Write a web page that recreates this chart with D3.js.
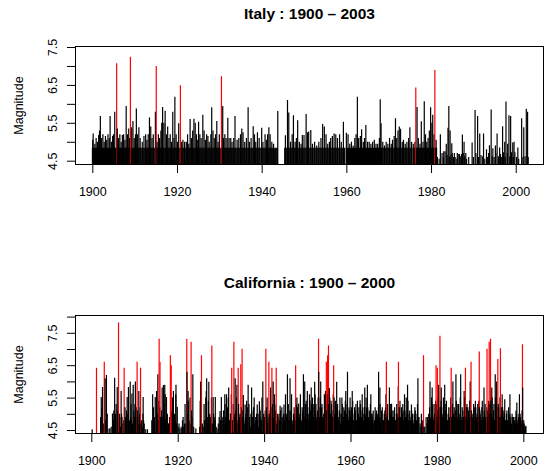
<!DOCTYPE html>
<html>
<head>
<meta charset="utf-8">
<script src="https://cdn.jsdelivr.net/npm/d3@7"></script>
<style>
    body { margin: 0; background: #fff; }
    svg { display: block; font-family: "Liberation Sans", Arial, Helvetica, sans-serif; }
</style>
</head>
<body>
<svg id="chart" width="545" height="471"></svg>
<script>
// tick labels
const yearTicks = [1900, 1920, 1940, 1960, 1980, 2000];
const italyMagTicks = [4.5, 5, 5.5, 6, 6.5, 7, 7.5];
const caMagTicks = [4.5, 5, 5.5, 6, 6.5, 7, 7.5, 8];

// Italy: the dense floor of ~4.84 events, as [year, fractions of the year]
const italyBandMag = 4.84;
const italyBand = [
    [1900,[.03,.27,.5,.76]], [1901,[.02,.24,.49,.71,.93]], [1902,[.18,.42,.66,.9]], [1903,[.1,.33,.58,.82]],
    [1904,[.05,.29,.53,.77,.97]], [1905,[.2,.45,.69,.91]], [1906,[.14,.38,.62,.86]], [1907,[.07,.31,.55,.8]],
    [1908,[.02,.26,.5,.74,.95]], [1909,[.19,.43,.67,.92]], [1910,[.12,.36,.6,.84]], [1911,[.06,.3,.54,.78]],
    [1912,[.01,.25,.5,.74,.96]], [1913,[.2,.44,.68,.9]], [1914,[.13,.37,.61,.86]], [1915,[.08,.32,.56,.8]],
    [1916,[.03,.27,.51,.75,.97]], [1917,[.21,.45,.7,.92]], [1918,[.15,.39,.63,.87]], [1919,[.09,.33,.57,.81]],
    [1920,[.04,.28,.52,.76,.98]], [1921,[.22,.46,.7,.93]], [1922,[.16,.4,.64,.88]], [1923,[.1,.34,.58,.82]],
    [1924,[.05,.29,.53,.77,.99]], [1925,[.23,.47,.71,.94]], [1926,[.17,.41,.65,.89]], [1927,[.11,.35,.59,.83]],
    [1928,[.06,.3,.54,.78]], [1929,[.02,.26,.5,.74,.96]], [1930,[.2,.44,.68,.92]], [1931,[.14,.38,.62,.86]],
    [1932,[.08,.32,.56,.8]], [1933,[.03,.27,.51,.75,.97]], [1934,[.21,.45,.69,.93]], [1935,[.15,.39,.63,.87]],
    [1936,[.09,.33,.57,.81]], [1937,[.04,.28,.52,.76,.98]], [1938,[.22,.46,.7,.94]], [1939,[.16,.4,.64,.88]],
    [1940,[.1,.34,.58,.82]], [1941,[.05,.29,.53,.77]], [1942,[.01,.25,.5,.74,.96]], [1943,[.2,.45,.7]],
    [1945,[.45,.7,.93]], [1946,[.17,.42,.66,.9]], [1947,[.12,.36,.6,.84]], [1948,[.06,.3,.55,.79]],
    [1949,[.01,.25,.5,.73,.96]], [1950,[.2,.44,.68,.92]], [1951,[.14,.38,.62,.86]], [1952,[.09,.33,.57,.81]],
    [1953,[.04,.28,.52,.76,.98]], [1954,[.22,.46,.7,.94]], [1955,[.16,.4,.64,.88]], [1956,[.1,.34,.58,.82]],
    [1957,[.05,.29,.53,.77,.99]], [1958,[.23,.47,.71,.95]], [1959,[.17,.41,.6]], [1960,[.02,.26,.5,.74,.96]],
    [1961,[.2,.44,.68,.92]], [1962,[.14,.38,.62,.86]], [1963,[.08,.32,.56,.8]], [1964,[.03,.27,.51,.75,.97]],
    [1965,[.21,.45,.69,.93]], [1966,[.15,.39,.63,.87]], [1967,[.09,.33,.57,.81]], [1968,[.04,.28,.62,.86]],
    [1969,[.1,.34,.58,.82]], [1970,[.05,.29,.53,.77,.99]], [1971,[.23,.47,.71,.95]], [1972,[.17,.41,.65,.89]],
    [1973,[.11,.35,.59,.83]], [1974,[.06,.3,.54,.78]], [1975,[.02,.26,.5,.92]], [1976,[.14,.38,.62,.86]],
    [1977,[.08,.32,.56,.8]], [1978,[.03,.27,.51,.75,.97]], [1979,[.21,.45,.69,.93]], [1980,[.15,.39,.63,.87]],
    [1981,[.1,.3]]
];

// Italy: events standing above the floor, [year, magnitude]
const italyQuakes = [
    [1900.1,5.05],[1900.2,5.22],[1900.6,4.95],[1900.9,5.1],[1901.2,5.0],[1901.5,5.18],[1901.7,5.3],[1901.9,5.68],
    [1902.2,5.1],[1902.5,5.2],[1902.8,5.0],[1903.1,5.15],[1903.4,5.05],[1903.7,5.2],[1904.0,5.1],[1904.2,5.68],
    [1904.5,5.0],[1904.8,5.15],[1905.0,5.2],[1905.3,5.79],[1905.75,7.07],[1905.9,5.35],[1906.2,5.1],[1906.5,5.2],
    [1906.8,5.0],[1907.1,5.18],[1907.4,5.2],[1907.7,5.05],[1908.0,5.94],[1908.3,5.2],[1908.6,5.35],[1908.8,5.1],
    [1909.0,7.24],[1909.3,5.38],[1909.6,5.55],[1909.9,5.1],[1910.2,5.2],[1910.4,5.88],[1910.7,5.2],[1911.0,5.38],
    [1911.3,5.1],[1911.8,5.0],[1912.2,5.15],[1912.6,5.2],[1912.9,5.05],[1913.2,5.2],[1913.5,5.64],[1913.8,5.4],
    [1914.1,5.1],[1914.4,5.2],[1914.9,5.79],[1915.1,7.0],[1915.3,5.0],[1915.6,5.2],[1915.9,5.1],[1916.2,5.3],
    [1916.4,5.5],[1916.6,5.92],[1916.9,5.5],[1917.2,5.82],[1917.5,5.2],[1917.8,5.4],[1918.1,5.1],[1918.4,5.2],
    [1918.7,5.0],[1919.0,5.79],[1919.3,5.1],[1919.5,6.19],[1919.8,5.2],[1920.1,5.0],[1920.4,5.49],[1920.8,6.49],
    [1921.1,5.0],[1921.4,5.05],[1921.8,5.0],[1922.2,5.0],[1922.5,5.2],[1922.8,4.95],[1923.1,5.6],[1923.4,5.1],
    [1923.7,5.3],[1924.0,5.61],[1924.3,5.5],[1924.6,5.2],[1924.9,5.05],[1925.1,5.53],[1925.4,5.2],[1925.7,5.1],
    [1926.1,5.71],[1926.4,5.3],[1926.7,5.05],[1927.0,5.2],[1927.3,5.15],[1927.6,5.0],[1928.0,5.2],[1928.2,5.91],
    [1928.5,5.3],[1928.8,5.1],[1929.1,5.2],[1929.4,5.55],[1929.7,5.0],[1930.0,5.2],[1930.5,6.73],[1930.8,5.94],
    [1931.0,5.1],[1931.3,5.2],[1931.6,5.1],[1932.0,5.63],[1932.3,5.1],[1932.7,5.1],[1933.0,5.0],[1933.4,5.1],
    [1933.7,5.68],[1934.2,5.05],[1934.6,5.1],[1935.0,5.2],[1935.3,5.35],[1935.6,5.25],[1936.0,5.0],[1936.4,5.1],
    [1936.8,5.91],[1937.1,5.0],[1937.5,5.1],[1938.0,5.41],[1938.3,5.2],[1938.6,5.0],[1939.0,5.25],[1939.4,5.1],
    [1940.0,5.37],[1940.3,5.0],[1940.8,5.2],[1941.1,5.05],[1941.4,5.2],[1941.7,5.38],[1942.0,5.2],[1942.4,5.0],
    [1942.8,4.95],[1943.2,4.8],[1943.8,5.81],
    [1945.6,5.17],[1946.1,6.1],[1946.4,5.77],[1946.8,5.0],[1947.2,5.2],[1947.5,5.7],[1947.9,5.0],[1948.2,5.1],
    [1948.5,5.57],[1948.9,5.0],[1949.3,4.95],[1949.6,5.18],[1950.0,5.18],[1950.5,5.73],[1950.8,5.25],[1951.1,5.27],
    [1951.6,5.31],[1952.0,4.95],[1952.5,5.0],[1953.0,4.9],[1953.5,5.0],[1954.0,5.1],[1954.4,5.47],[1954.8,5.4],
    [1955.2,5.2],[1955.6,4.95],[1956.0,5.0],[1956.3,5.1],[1956.7,5.15],[1957.1,5.22],[1957.5,5.2],[1957.9,5.1],
    [1958.4,5.2],[1958.8,5.0],[1959.3,5.53],[1960.0,5.24],[1960.4,5.2],[1960.8,4.95],[1961.2,5.0],[1961.6,4.9],
    [1962.0,5.1],[1962.3,5.2],[1962.6,6.19],[1962.9,5.1],[1963.3,5.15],[1963.6,5.33],[1964.0,5.0],[1964.3,5.1],
    [1964.6,5.44],[1965.0,5.0],[1965.4,5.0],[1965.8,4.95],[1966.2,5.0],[1966.6,5.05],[1967.0,4.95],[1967.4,4.95],
    [1967.8,5.1],[1968.0,6.12],[1968.2,5.49],[1968.6,5.0],[1969.0,4.9],[1969.4,5.0],[1969.8,4.95],[1970.2,5.1],
    [1970.6,4.95],[1970.9,5.05],[1971.3,5.15],[1971.6,5.62],[1971.9,5.1],[1972.2,5.3],[1972.5,5.4],[1972.8,5.34],
    [1973.2,5.0],[1973.5,5.05],[1973.9,4.95],[1974.3,5.0],[1974.7,5.1],[1975.0,5.38],[1975.4,5.0],[1975.8,4.95],
    [1976.2,5.0],[1976.4,6.43],[1976.7,5.92],[1977.0,5.1],[1977.4,4.95],[1977.7,5.54],[1978.1,5.0],[1978.4,6.07],
    [1978.7,5.2],[1979.0,5.0],[1979.3,5.1],[1979.6,5.3],[1979.9,5.91],[1980.2,5.5],[1980.4,5.71],[1980.7,5.2],
    [1980.9,6.89],[1981.2,5.05],[1982.2,5.2],[1983.0,4.75],[1983.6,4.95],[1984.0,5.37],[1984.2,5.94],[1984.5,5.3],
    [1984.9,4.96],[1985.5,4.7],[1986.2,4.7],[1986.7,4.68],[1987.4,5.19],[1987.8,5.0],[1988.2,4.7],[1989.7,4.98],
    [1990.4,5.84],[1991.0,5.68],[1991.5,5.22],[1992.4,5.22],[1993.1,4.8],[1993.8,4.91],[1994.2,5.85],[1994.6,4.83],
    [1995.2,4.9],[1995.6,5.22],[1996.2,4.85],[1996.9,5.41],[1997.4,5.0],[1997.7,6.06],[1998.1,4.95],[1998.4,5.7],
    [1998.8,5.68],[1999.3,4.98],[1999.6,5.0],[2000.5,4.85],[2001.4,5.62],[2001.9,5.38],[2002.5,5.87],[2002.8,5.79]
];

// Italy: the thinner low floor after 1981
const italyTail = [
    [1981.5,4.6],[1981.9,4.55],[1982.6,4.7],[1982.9,4.6],[1983.3,4.75],[1983.8,4.65],[1984.4,4.6],[1984.7,4.65],
    [1985.0,4.7],[1985.3,4.6],[1985.7,4.6],[1986.1,4.55],[1986.4,4.68],[1986.9,4.62],[1987.2,4.68],[1987.6,4.7],
    [1987.95,4.62],[1988.4,4.55],[1988.9,4.6],[1990.0,4.6],[1990.6,4.7],[1991.2,4.6],[1991.8,4.65],[1992.2,4.62],
    [1992.7,4.55],[1993.3,4.6],[1993.6,4.7],[1994.45,4.62],[1994.9,4.6],[1995.3,4.7],[1995.9,4.62],[1996.4,4.68],
    [1996.6,4.6],[1997.1,4.72],[1997.5,4.6],[1998.0,4.7],[1998.6,4.62],[1999.0,4.72],[1999.45,4.6],[1999.8,4.72],
    [2000.2,4.6],[2000.7,4.55],[2001.7,4.6],[2002.2,4.62],[2002.95,4.6]
];

// California: the larger events, [year, magnitude]
const caQuakes = [
    [1900.2,4.52],[1901.2,6.42],[1902.3,5.52],[1902.6,5.83],[1903.0,6.61],[1903.2,6.1],[1903.5,6.2],[1904.3,4.55],
    [1904.9,5.01],[1905.4,6.11],[1906.0,5.83],[1906.3,7.82],[1906.9,5.7],[1907.6,6.42],[1908.3,5.52],[1908.6,5.83],
    [1909.0,6.0],[1909.4,5.63],[1909.7,5.9],[1910.2,6.0],[1910.6,6.61],[1911.0,5.7],[1911.4,6.42],[1912.0,5.52],
    [1912.6,4.52],[1914.2,5.6],[1914.8,5.52],[1915.1,5.7],[1915.4,6.22],[1915.7,7.32],[1915.9,6.61],[1916.4,5.81],
    [1916.7,5.89],[1917.0,5.9],[1917.4,5.52],[1918.3,6.81],[1918.5,6.5],[1919.0,5.7],[1919.6,5.9],[1919.9,5.22],
    [1922.1,7.32],[1922.15,6.3],[1922.4,5.7],[1923.1,7.22],[1923.5,6.22],[1925.3,6.0],[1925.5,6.81],[1926.5,5.5],
    [1926.7,6.1],[1927.2,5.99],[1927.9,7.11],[1928.2,5.52],[1928.7,5.52],[1929.8,5.09],[1930.1,5.52],[1930.9,5.6],
    [1931.3,5.6],[1931.8,5.81],[1932.5,6.42],[1933.0,7.22],[1933.3,6.1],[1933.7,5.9],[1934.0,6.42],[1934.6,6.53],
    [1934.9,7.01],[1935.2,5.58],[1935.6,5.29],[1936.3,5.9],[1937.1,5.81],[1938.4,5.29],[1938.9,5.39],[1939.7,6.0],
    [1940.4,7.01],[1940.7,5.5],[1941.1,6.61],[1941.5,5.81],[1941.8,6.42],[1942.1,6.0],[1942.5,5.29],[1942.8,6.42],
    [1943.7,5.25],[1944.6,5.29],[1945.4,6.22],[1946.0,6.1],[1947.3,6.5],[1947.5,5.29],[1948.0,5.32],[1949.1,6.22],
    [1949.4,6.0],[1950.0,5.7],[1950.5,5.6],[1950.9,5.81],[1951.7,5.99],[1952.6,7.32],[1952.65,6.3],[1953.1,6.0],
    [1954.4,6.61],[1954.7,6.81],[1954.9,7.11],[1955.1,5.8],[1955.5,5.4],[1956.1,6.5],[1956.2,5.5],[1956.8,5.99],
    [1958.0,5.5],[1958.9,5.7],[1959.3,6.3],[1959.9,5.5],[1960.4,5.7],[1961.6,5.4],[1962.2,5.42],[1962.7,5.6],
    [1963.3,5.81],[1963.9,5.9],[1964.7,5.6],[1965.7,5.2],[1966.5,6.3],[1966.8,5.81],[1968.2,5.6],[1968.3,6.61],
    [1969.0,5.81],[1969.5,5.31],[1971.05,5.85],[1971.1,6.61],[1971.8,5.2],[1972.5,5.6],[1973.2,5.9],[1974.1,5.29],
    [1974.9,5.2],[1975.6,6.1],[1976.4,5.0],[1976.9,6.81],[1977.5,4.9],[1978.4,6.0],[1978.9,5.81],[1979.8,6.5],
    [1980.1,6.42],[1980.4,5.9],[1980.7,7.41],[1981.0,5.81],[1981.8,5.9],[1983.3,6.42],[1983.7,6.0],[1984.4,6.22],
    [1985.5,6.22],[1986.3,5.7],[1986.6,6.42],[1987.7,6.0],[1987.9,6.61],[1988.9,5.4],[1989.7,5.4],[1989.8,6.92],
    [1990.9,5.81],[1991.6,7.01],[1992.1,7.22],[1992.4,7.32],[1992.7,5.81],[1993.5,6.22],[1993.8,6.0],[1994.1,6.69],
    [1994.7,7.02],[1995.1,5.6],[1995.7,5.45],[1996.9,5.6],[1997.7,4.9],[1998.5,5.35],[1999.1,5.6],[1999.8,7.15],
    [1999.85,5.81],[2000.6,4.63]
];

// California: the smaller events that make up the dark floor
const caBase = [
    [1902.15,4.9],[1902.45,5.2],[1902.8,4.7],[1903.35,4.8],[1903.7,5.0],[1904.1,4.55],[1904.6,4.6],[1904.95,4.8],
    [1905.2,5.1],[1905.5,4.9],[1905.75,5.3],[1906.15,4.8],[1906.5,5.0],[1906.75,4.6],[1907.1,4.9],[1907.35,4.7],
    [1907.8,5.2],[1908.05,4.6],[1908.45,5.0],[1908.8,4.8],[1909.2,5.3],[1909.55,4.7],[1909.85,5.1],[1910.05,4.9],
    [1910.4,5.2],[1910.8,4.7],[1911.2,5.0],[1911.6,4.8],[1911.8,4.6],[1912.25,4.7],[1913.0,4.52],[1914.0,4.8],
    [1914.4,5.2],[1914.6,4.9],[1915.25,5.0],[1915.55,4.8],[1915.85,5.2],[1916.1,4.7],[1916.25,5.1],[1916.55,4.9],
    [1916.85,5.3],[1917.2,4.8],[1917.6,5.0],[1917.85,4.7],[1918.1,4.9],[1918.7,5.1],[1918.9,4.6],[1919.25,5.0],
    [1919.45,4.8],[1919.75,4.7],[1920.1,4.6],[1920.5,4.55],[1920.8,4.6],[1921.1,4.8],[1921.4,4.6],[1921.7,5.3],
    [1921.9,4.7],[1922.3,5.0],[1922.6,4.8],[1922.85,5.5],[1923.3,4.9],[1923.7,4.6],[1924.2,4.55],[1925.1,4.6],
    [1925.7,4.7],[1925.9,4.6],[1926.1,5.3],[1926.3,4.8],[1926.85,4.9],[1927.0,4.7],[1927.4,5.0],[1927.65,4.8],
    [1928.0,4.7],[1928.45,4.9],[1928.9,4.6],[1929.1,4.55],[1929.4,4.7],[1929.6,4.9],[1930.3,4.8],[1930.6,5.1],
    [1930.75,4.7],[1931.05,4.9],[1931.55,5.2],[1931.95,4.8],[1932.2,5.0],[1932.7,4.8],[1932.85,5.3],[1933.15,4.9],
    [1933.45,5.1],[1933.85,4.7],[1934.2,5.0],[1934.45,4.8],[1934.75,5.2],[1935.0,4.9],[1935.4,4.7],[1935.8,5.0],
    [1936.05,4.8],[1936.5,5.3],[1936.8,4.6],[1937.3,4.9],[1937.55,5.2],[1937.85,4.7],[1938.1,4.8],[1938.6,5.0],
    [1938.75,4.6],[1939.1,5.1],[1939.35,4.8],[1939.9,5.0],[1940.1,4.9],[1940.55,5.2],[1940.85,4.7],[1941.3,5.0],
    [1941.65,4.9],[1941.95,5.3],[1942.3,4.8],[1942.65,5.1],[1942.95,4.7],[1943.2,4.9],[1943.45,5.0],[1943.9,4.8],
    [1944.1,5.2],[1944.35,4.7],[1944.85,5.0],[1945.1,4.9],[1945.6,5.3],[1945.8,4.8],[1946.25,5.1],[1946.5,4.7],
    [1946.8,5.0],[1947.05,4.9],[1947.7,5.2],[1947.9,4.8],[1948.25,5.0],[1948.55,4.7],[1948.8,5.2],[1949.25,4.9],
    [1949.6,5.3],[1949.85,4.8],[1950.2,5.0],[1950.35,4.8],[1950.7,5.1],[1951.1,4.9],[1951.35,5.3],[1951.5,4.8],
    [1951.9,5.0],[1952.1,4.8],[1952.35,5.1],[1952.8,4.9],[1953.3,5.2],[1953.55,4.9],[1953.8,5.0],[1954.1,4.8],
    [1954.3,5.3],[1954.55,5.0],[1954.8,5.6],[1955.0,5.2],[1955.3,4.9],[1955.7,5.1],[1955.9,4.8],[1956.4,5.0],
    [1956.6,4.8],[1956.95,5.2],[1957.15,4.9],[1957.4,5.1],[1957.7,4.7],[1957.9,5.0],[1958.2,4.8],[1958.45,5.2],
    [1958.7,4.9],[1959.1,5.0],[1959.5,4.8],[1959.75,5.1],[1960.0,4.9],[1960.2,5.2],[1960.6,4.8],[1960.85,5.0],
    [1961.1,5.1],[1961.35,4.8],[1961.8,5.0],[1962.0,4.9],[1962.4,5.1],[1962.9,4.8],[1963.1,5.0],[1963.5,4.9],
    [1963.7,5.2],[1964.1,4.8],[1964.35,5.1],[1964.5,4.9],[1964.9,5.0],[1965.1,4.9],[1965.4,4.7],[1965.9,5.0],
    [1966.1,4.8],[1966.3,5.0],[1966.7,4.9],[1966.95,4.7],[1967.2,5.1],[1967.5,4.8],[1967.8,5.0],[1968.0,4.9],
    [1968.5,5.0],[1968.75,4.8],[1969.2,5.0],[1969.7,4.9],[1969.9,4.7],[1970.1,5.1],[1970.35,4.8],[1970.6,5.0],
    [1970.85,4.9],[1971.3,5.2],[1971.55,4.9],[1971.95,5.0],[1972.2,4.8],[1972.35,5.1],[1972.75,4.9],[1973.0,5.0],
    [1973.45,4.8],[1973.7,5.1],[1974.0,4.9],[1974.35,5.0],[1974.6,4.7],[1975.1,4.8],[1975.4,5.0],[1975.85,4.9],
    [1976.1,4.7],[1976.6,4.8],[1977.2,4.6],[1977.85,4.9],[1978.1,5.0],[1978.65,4.8],[1978.85,5.2],[1979.1,4.9],
    [1979.35,5.3],[1979.6,4.8],[1980.25,5.1],[1980.55,4.9],[1980.85,5.2],[1981.2,4.8],[1981.4,5.0],[1981.6,4.9],
    [1982.0,5.1],[1982.3,4.8],[1982.6,5.0],[1982.9,4.9],[1983.1,5.2],[1983.5,4.8],[1983.85,5.0],[1984.1,4.9],
    [1984.25,5.1],[1984.6,4.8],[1984.85,5.3],[1985.1,4.9],[1985.3,5.0],[1985.75,4.8],[1986.0,5.1],[1986.15,4.9],
    [1986.5,5.0],[1986.85,5.2],[1987.05,4.8],[1987.3,5.1],[1987.5,4.9],[1988.15,5.0],[1988.4,4.8],[1988.65,5.2],
    [1989.1,4.9],[1989.3,5.0],[1989.55,4.8],[1989.95,5.1],[1990.15,4.9],[1990.4,5.2],[1990.65,4.8],[1991.05,5.0],
    [1991.3,4.9],[1991.8,5.1],[1992.0,4.8],[1992.25,5.3],[1992.55,5.0],[1992.9,4.9],[1993.1,5.1],[1993.3,4.8],
    [1993.65,5.0],[1993.95,4.9],[1994.3,5.2],[1994.5,4.9],[1994.9,5.0],[1995.3,4.9],[1995.5,5.1],[1995.9,4.8],
    [1996.1,5.0],[1996.35,4.8],[1996.6,5.2],[1996.75,4.7],[1997.1,4.9],[1997.4,5.0],[1997.9,4.7],[1998.1,4.9],
    [1998.3,5.1],[1998.75,4.8],[1999.0,5.0],[1999.35,4.9],[1999.6,4.7],[2000.1,4.8],[2000.35,4.6]
];

// California: more of the small and middling events that fill the floor
const caFill = [
    [1905.1,4.8],[1905.6,5.0],[1906.05,5.1],[1906.6,4.9],[1907.0,5.0],[1907.5,4.8],[1907.9,4.9],[1908.15,5.1],
    [1908.7,4.7],[1909.1,4.9],[1909.3,4.8],[1909.9,4.7],[1910.1,5.3],[1910.3,4.8],[1910.55,4.9],[1910.7,5.1],
    [1911.1,4.9],[1911.3,5.2],[1911.5,4.7],[1911.95,5.0],[1912.1,4.8],
    [1915.05,4.7],[1915.65,5.4],[1916.0,4.9],[1916.95,4.8],[1917.1,5.6],[1917.7,4.6],[1918.0,4.7],[1918.8,5.5],
    [1919.15,4.9],[1919.55,5.6],[1920.3,4.7],[1920.95,4.55],[1921.25,4.9],[1921.55,4.7],[1922.45,5.4],[1922.95,4.7],
    [1923.2,5.1],[1925.2,5.4],[1926.2,4.8],[1926.6,5.7],[1926.95,4.7],[1927.1,5.4],[1927.55,4.9],[1927.8,5.5],
    [1928.3,5.0],[1928.6,4.8],[1929.9,4.8],[1930.45,4.9],[1930.95,5.3],[1931.2,4.7],[1931.7,5.5],[1932.05,4.8],
    [1932.4,5.6],[1932.95,4.9],[1933.25,5.0],[1933.6,5.5],[1933.95,4.8],[1934.1,5.3],[1934.35,4.9],[1934.65,5.0],
    [1935.1,5.1],[1935.3,4.8],[1935.7,4.9],[1935.95,5.4],[1936.2,5.2],[1936.65,4.9],[1936.95,5.0],[1937.15,5.1],
    [1937.45,4.8],[1937.7,5.5],[1937.95,4.9],[1938.25,5.0],[1938.5,4.8],[1938.95,5.2],[1939.2,4.9],[1939.5,5.5],
    [1939.8,4.8],[1940.25,5.1],[1940.65,4.8],[1940.95,5.0],[1941.15,4.9],[1941.4,5.1],[1941.75,5.2],[1942.15,4.9],
    [1942.4,5.6],[1942.75,4.8],[1943.1,5.0],[1943.55,4.8],[1943.8,5.1],[1944.2,4.9],[1944.5,5.0],[1944.7,4.8],
    [1944.95,5.6],[1945.25,5.0],[1945.5,4.8],[1945.95,5.1],[1946.15,4.9],[1946.35,5.6],[1946.65,4.8],[1946.95,5.2],
    [1947.2,5.0],[1947.4,4.8],[1947.6,5.5],[1947.8,4.9],[1948.1,4.9],[1948.4,5.6],[1948.7,4.8],[1948.95,5.0],
    [1949.0,5.1],[1949.5,4.9],[1949.75,5.4],[1949.95,5.0],[1950.1,5.2],[1950.45,4.9],[1950.6,5.4],[1950.8,4.8],
    [1950.95,5.3],[1951.2,5.5],[1951.45,4.9],[1951.6,5.2],[1951.8,5.6],[1952.0,5.3],[1952.2,4.9],[1952.5,5.5],
    [1952.7,4.8],[1952.95,5.2],[1953.0,5.5],[1953.2,4.9],[1953.4,5.3],[1953.7,4.8],[1953.95,5.6],[1954.0,5.2],
    [1954.2,5.7],[1954.45,5.1],[1954.65,5.5],[1954.95,5.3],[1955.2,5.5],[1955.4,5.0],[1955.6,5.3],[1955.8,4.9],
    [1956.0,5.6],[1956.3,4.9],[1956.5,5.4],[1956.75,5.0],[1956.9,5.2],[1957.0,5.3],[1957.3,4.8],[1957.55,5.5],
    [1957.8,5.0],[1958.1,5.3],[1958.35,4.9],[1958.6,5.1],[1958.8,5.4],[1958.95,4.8],[1959.2,5.3],[1959.4,4.9],
    [1959.65,5.2],[1959.95,4.8],[1960.1,5.1],[1960.3,4.9],[1960.5,5.4],[1960.75,4.8],[1960.95,5.2],[1961.0,4.9],
    [1961.25,5.3],[1961.5,4.8],[1961.7,5.0],[1961.95,5.2],[1962.1,4.8],[1962.3,5.3],[1962.55,4.9],[1962.8,5.2],
    [1963.0,4.8],[1963.2,5.2],[1963.4,5.0],[1963.6,5.5],[1963.8,4.9],[1964.0,5.2],[1964.2,4.9],[1964.6,5.3],
    [1964.8,4.8],[1965.0,5.0],[1965.25,5.1],[1965.55,4.8],[1965.8,4.9],[1966.0,5.1],[1966.2,4.9],[1966.45,5.2],
    [1966.6,4.8],[1966.85,5.3],[1967.05,4.9],[1967.35,5.2],[1967.65,4.8],[1967.95,5.1],[1968.1,5.2],[1968.4,4.9],
    [1968.6,5.3],[1968.9,4.8],[1969.1,4.9],[1969.3,5.3],[1969.6,4.8],[1969.8,5.1],[1970.0,4.9],[1970.2,5.2],
    [1970.5,4.8],[1970.7,5.3],[1970.95,5.0],[1971.2,4.9],[1971.45,5.4],[1971.7,4.8],[1971.85,5.1],[1972.0,5.0],
    [1972.1,5.3],[1972.45,4.8],[1972.6,5.1],[1972.9,5.5],[1973.1,4.9],[1973.3,5.4],[1973.55,5.0],[1973.85,4.8],
    [1974.15,5.1],[1974.45,4.8],[1974.75,5.0],[1974.95,4.9],[1975.0,5.1],[1975.25,4.8],[1975.5,5.3],[1975.7,4.9],
    [1976.3,4.6],[1976.8,4.7],[1977.0,4.6],[1977.7,4.7],[1978.0,4.8],[1978.3,5.2],[1978.5,4.9],[1978.75,5.5],
    [1978.95,4.8],[1979.0,5.3],[1979.2,4.8],[1979.45,5.0],[1979.7,5.4],[1979.95,4.9],[1980.0,5.3],[1980.2,4.8],
    [1980.35,5.5],[1980.6,5.2],[1980.8,4.9],[1980.95,5.4],[1981.1,5.2],[1981.3,4.9],[1981.5,5.5],[1981.7,4.8],
    [1981.9,5.3],[1982.1,4.9],[1982.2,5.4],[1982.45,4.8],[1982.75,5.2],[1983.0,4.9],[1983.2,5.5],[1983.4,4.9],
    [1983.6,5.3],[1983.95,4.8],[1984.0,5.2],[1984.5,5.4],[1984.7,4.9],[1984.95,5.1],[1985.0,5.3],[1985.2,4.8],
    [1985.4,5.5],[1985.6,4.9],[1985.85,5.2],[1986.1,4.8],[1986.4,5.5],[1986.7,4.9],[1986.95,5.3],[1987.15,5.2],
    [1987.4,4.8],[1987.6,5.4],[1987.8,4.9],[1988.0,5.1],[1988.3,4.9],[1988.5,5.3],[1988.8,4.8],[1989.0,5.2],
    [1989.2,4.8],[1989.45,5.3],[1989.65,4.9],[1989.85,5.2],[1990.0,5.0],[1990.3,4.8],[1990.5,5.4],[1990.75,4.9],
    [1990.95,5.1],[1991.15,5.3],[1991.4,4.8],[1991.55,5.2],[1991.7,4.9],[1991.95,5.4],[1992.1,5.0],[1992.35,4.8],
    [1992.45,5.4],[1992.65,4.9],[1992.8,5.5],[1993.0,4.9],[1993.2,5.3],[1993.4,4.8],[1993.55,5.5],[1993.75,4.9],
    [1993.9,5.2],[1994.0,4.9],[1994.2,5.3],[1994.4,4.8],[1994.6,5.5],[1994.8,4.9],[1994.95,5.2],[1995.0,4.8],
    [1995.2,5.2],[1995.4,4.9],[1995.6,5.0],[1995.8,4.7],[1996.0,4.8],[1996.2,5.1],[1996.45,4.7],[1996.85,5.0],
    [1996.95,4.7],[1997.0,4.8],[1997.25,4.7],[1997.55,4.9],[1997.75,4.6],[1998.0,4.8],[1998.2,4.7],[1998.45,5.0],
    [1998.6,4.7],[1998.9,4.9],[1999.1,4.8],[1999.25,5.0],[1999.5,4.8],[1999.7,5.1],[1999.95,4.7],[2000.2,4.7],
    [2000.5,4.6]
];

const bigQuake = 6.4;   // drawn in red from here up
const svg = d3.select("#chart");

function byYear(a, b) { return a[0] - b[0]; }

const italyEvents = italyBand
    .flatMap(([yr, parts]) => parts.map(p => [yr + p, italyBandMag]))
    .concat(italyQuakes, italyTail)
    .sort(byYear);

const caEvents = caQuakes.concat(caBase, caFill).sort(byYear);

function drawPanel(p) {
    const g = svg.append("g");

    const x = d3.scaleLinear()
                .domain(p.xDomain)
                .range([p.left, p.right]);

    const y = d3.scaleLinear()
                .domain([4.5, p.yTop])
                .range(p.yRange);

    g.append("clipPath")
        .attr("id", p.id)
        .append("rect")
        .attr("x", p.left)
        .attr("y", p.top)
        .attr("width", p.right - p.left)
        .attr("height", p.bottom - p.top);

    g.append("g")
        .attr("clip-path", `url(#${p.id})`)
        .selectAll("line")
        .data(p.events)
        .join("line")
        .attr("x1", d => x(d[0]))
        .attr("x2", d => x(d[0]))
        .attr("y1", p.bottom)
        .attr("y2", d => y(d[1]))
        .attr("stroke", d => d[1] >= bigQuake ? "#ff0000" : "#000")
        .attr("stroke-width", 1.2);

    const xAxis = d3.axisBottom(x)
                    .tickValues(yearTicks)
                    .tickFormat(d3.format("d"))
                    .tickSize(8.5)
                    .tickPadding(p.xPad);

    const xg = g.append("g")
        .attr("transform", `translate(0,${p.bottom})`)
        .call(xAxis);

    const yAxis = d3.axisLeft(y)
                    .tickValues(p.magTicks)
                    .tickFormat(d => (d * 10) % 10 === 5 ? d.toFixed(1) : "")
                    .tickSize(8.5);

    const yg = g.append("g")
        .attr("transform", `translate(${p.left},0)`)
        .call(yAxis);

    yg.selectAll("text")
        .attr("transform", "rotate(-90)")
        .attr("x", 0)
        .attr("y", -19)
        .attr("dy", null)
        .attr("text-anchor", "middle");

    [xg, yg].forEach(a => {
        a.attr("font-family", null).attr("font-size", null);
        a.select(".domain").remove();
        a.selectAll("line").attr("stroke", "#000");
        a.selectAll("text").attr("fill", "#000").style("font-size", "12.5px");
    });

    g.append("rect")
        .attr("x", p.left)
        .attr("y", p.top)
        .attr("width", p.right - p.left)
        .attr("height", p.bottom - p.top)
        .attr("fill", "none")
        .attr("stroke", "#000");

    g.append("text")
        .attr("x", (p.left + p.right) / 2)
        .attr("y", p.titleY)
        .attr("text-anchor", "middle")
        .style("font-weight", "bold")
        .style("font-size", "15.5px")
        .text(p.title);

    g.append("text")
        .attr("transform", `translate(22.5,${(p.top + p.bottom) / 2}) rotate(-90)`)
        .attr("text-anchor", "middle")
        .style("font-size", "12.5px")
        .text("Magnitude");
}

drawPanel({
    id: "clip-italy",
    title: "Italy : 1900 – 2003",
    events: italyEvents,
    magTicks: italyMagTicks,
    xDomain: [1896.03, 2006.56],
    yTop: 7.5,
    yRange: [160.7, 47],
    left: 75.5, right: 543.5, top: 46.5, bottom: 164.5,
    titleY: 19.3,
    xPad: 14
});

drawPanel({
    id: "clip-ca",
    title: "California : 1900 – 2000",
    events: caEvents,
    magTicks: caMagTicks,
    xDomain: [1896.34, 2004.67],
    yTop: 8,
    yRange: [430, 316.6],
    left: 75.5, right: 543.5, top: 315.5, bottom: 433.5,
    titleY: 287.5,
    xPad: 14
});
</script>
</body>
</html>
